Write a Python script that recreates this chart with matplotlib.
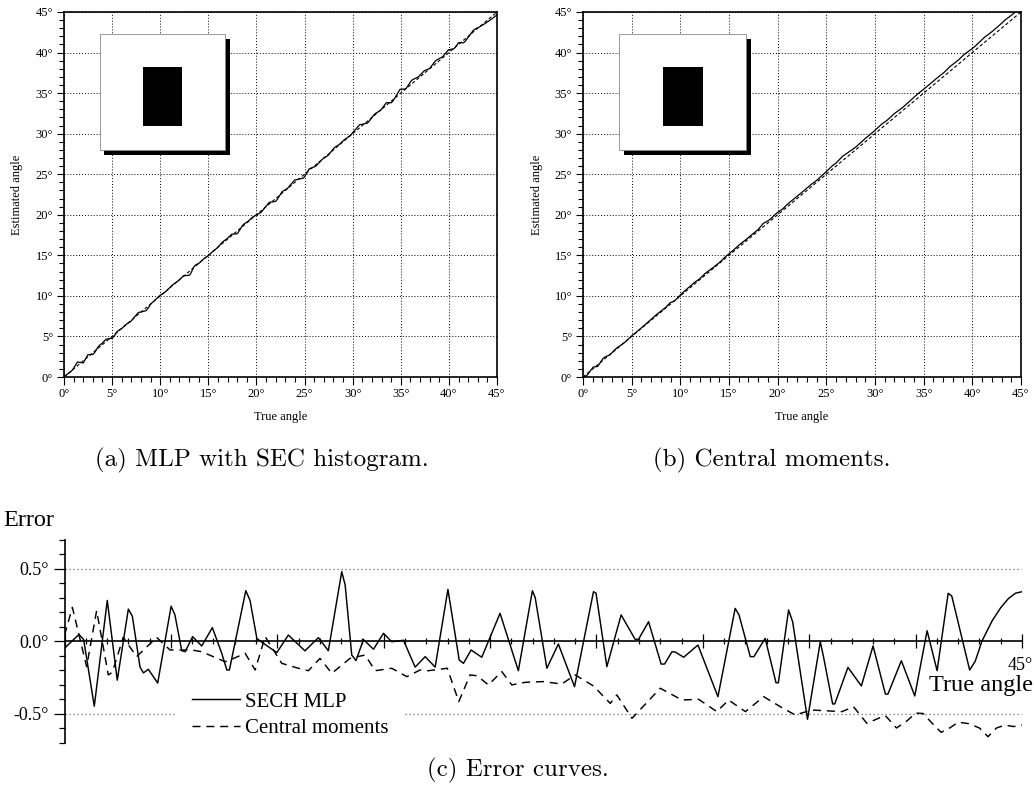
import numpy as np
import matplotlib
matplotlib.use("Agg")
import matplotlib.pyplot as plt
from matplotlib.ticker import MultipleLocator, FixedLocator
from matplotlib.patches import Rectangle

plt.rcParams['font.family'] = ['Liberation Serif', 'DejaVu Serif']

# ---------------------------------------------------------------- data
# Error of the SECH-histogram MLP estimate (degrees) against true angle
mlp_angle = [0.00, 0.68, 0.90, 1.40, 2.01, 2.48, 3.00, 3.19, 3.55, 3.71, 3.94, 4.38,
             5.01, 5.19, 5.51, 5.67, 6.02, 6.45, 6.95, 7.39, 7.63, 7.75, 8.52, 8.72,
             9.04, 9.24, 9.98, 10.52, 11.30, 11.93, 12.40, 13.03, 13.19, 13.50, 13.70,
             14.05, 14.52, 14.99, 15.38, 15.93, 16.48, 16.95, 17.42, 18.02, 18.55,
             18.75, 19.11, 19.61, 20.47, 21.33, 21.99, 22.12, 22.67, 23.21, 23.97,
             24.86, 24.98, 25.49, 26.16, 26.82, 26.98, 27.45, 28.04, 28.20, 28.55,
             28.70, 29.10, 29.77, 30.71, 31.52, 31.70, 32.23, 32.40, 32.93, 33.44,
             33.55, 34.03, 34.22, 34.92, 35.52, 35.67, 36.10, 36.20, 36.82, 37.45,
             38.00, 38.58, 38.70, 39.33, 39.96, 40.54, 41.01, 41.53, 41.70, 42.54,
             42.80, 43.12, 43.60, 44.00, 44.37, 44.70, 45.00]
mlp_error = [-0.050, 0.045, 0.010, -0.450, 0.280, -0.270, 0.220, 0.170, -0.180, -0.220,
             -0.195, -0.290, 0.240, 0.180, -0.067, -0.074, 0.030, -0.034, 0.092, -0.085,
             -0.200, -0.200, 0.347, 0.280, 0.018, -0.005, -0.080, 0.041, -0.068, 0.023,
             -0.067, 0.478, 0.386, -0.097, -0.135, 0.010, -0.057, 0.053, -0.005, 0.005,
             -0.180, -0.108, -0.180, 0.356, -0.131, -0.154, -0.062, -0.112, 0.191,
             -0.205, 0.347, 0.300, -0.188, -0.021, -0.315, 0.340, 0.330, -0.177, 0.180,
             0.011, 0.012, 0.133, -0.159, -0.159, -0.074, -0.076, -0.112, -0.028,
             -0.384, 0.225, 0.180, -0.108, -0.108, 0.018, -0.288, -0.288, 0.214, 0.133,
             -0.540, -0.005, -0.108, -0.434, -0.434, -0.182, -0.310, -0.034, -0.366,
             -0.366, -0.136, -0.379, 0.071, -0.205, 0.329, 0.310, -0.200, -0.140,
             0.000, 0.140, 0.230, 0.294, 0.330, 0.340]

# Error of the central-moments estimate (degrees) against true angle
cm_angle = [0.00, 0.37, 1.04, 1.51, 2.06, 2.25, 2.76, 3.39, 4.33, 4.96, 5.98, 6.45,
            7.55, 7.80, 8.49, 8.96, 9.43, 10.21, 10.99, 11.46, 12.01, 12.56, 13.42,
            13.70, 14.13, 14.60, 15.38, 16.09, 16.71, 17.10, 17.99, 18.53, 19.06,
            19.40, 19.92, 20.55, 21.02, 21.65, 22.51, 23.37, 24.00, 24.86, 25.65,
            25.96, 26.67, 28.00, 29.02, 29.80, 30.66, 31.21, 32.00, 32.86, 33.64,
            34.34, 35.12, 36.54, 37.08, 37.71, 38.30, 38.58, 39.10, 39.60, 40.00,
            40.35, 40.77, 41.20, 41.60, 42.00, 42.50, 43.00, 43.40, 43.80, 44.20,
            44.60, 45.00]
cm_error = [0.040, 0.232, -0.177, 0.209, -0.234, -0.215, 0.025, -0.108, 0.025, -0.062,
            -0.062, -0.074, -0.143, -0.130, -0.085, -0.200, 0.030, -0.154, -0.188,
            -0.205, -0.120, -0.223, -0.120, -0.110, -0.097, -0.205, -0.188, -0.246,
            -0.200, -0.205, -0.188, -0.418, -0.234, -0.240, -0.303, -0.211, -0.303,
            -0.285, -0.280, -0.297, -0.234, -0.310, -0.430, -0.372, -0.533, -0.326,
            -0.407, -0.402, -0.487, -0.407, -0.487, -0.384, -0.453, -0.510, -0.476,
            -0.487, -0.453, -0.568, -0.530, -0.515, -0.600, -0.550, -0.497, -0.500,
            -0.566, -0.630, -0.600, -0.560, -0.570, -0.600, -0.660, -0.600, -0.580,
            -0.590, -0.580]

angle_range = [0, 45]
angle_ticks = [0, 5, 10, 15, 20, 25, 30, 35, 40, 45]
angle_tick_labels = [f"{a}°" for a in angle_ticks]
error_ticks = [-0.5, 0.0, 0.5]
error_tick_labels = ["-0.5°", "0.0°", "0.5°"]
legend_labels = ["SECH MLP", "Central moments"]
captions = ["(a) MLP with SEC histogram.", "(b) Central moments.", "(c) Error curves."]

# ---------------------------------------------------------------- layout
W, H = 1034, 790
fig = plt.figure(figsize=(W / 100, H / 100), dpi=100)


def box(x0, y0, x1, y1):
    """Pixel box (top-left origin) -> figure fraction rect."""
    return [x0 / W, 1 - y1 / H, (x1 - x0) / W, (y1 - y0) / H]


def angle_panel(ax, true_angle, est_angle, ylabel_x):
    ax.plot(angle_range, angle_range, color='k', lw=0.8, ls=(0, (3, 2)), zorder=4)
    ax.plot(true_angle, est_angle, color='k', lw=0.9, zorder=5)
    ax.set_xlim(0, 45)
    ax.set_ylim(0, 45)
    for axis in (ax.xaxis, ax.yaxis):
        axis.set_major_locator(FixedLocator(angle_ticks))
        axis.set_minor_locator(MultipleLocator(1))
    ax.set_xticklabels(angle_tick_labels)
    ax.set_yticklabels(angle_tick_labels)
    ax.grid(True, which='major', color='k', ls=(0, (1, 2)), lw=0.7, zorder=1)
    for s in ax.spines.values():
        s.set_linewidth(1.2)
    ax.tick_params(which='both', direction='out', top=False, right=False,
                   width=0.8, labelsize=9)
    ax.tick_params(which='major', length=5.4, pad=2.5)
    ax.tick_params(which='minor', length=3.6)

    # test image: white square with drop shadow and a black bar in the middle
    sx, sy, sw, sh = 0.082, 0.622, 0.290, 0.318
    ax.add_patch(Rectangle((sx + 0.0115, sy - 0.0137), sw, sh, transform=ax.transAxes,
                           fc='k', ec='none', zorder=3))
    ax.add_patch(Rectangle((sx, sy), sw, sh, transform=ax.transAxes,
                           fc='white', ec='#888888', lw=0.6, zorder=3.1))
    ax.add_patch(Rectangle((0.182, 0.688), 0.091, 0.161, transform=ax.transAxes,
                           fc='k', ec='none', zorder=3.2))

    pos = ax.get_position()
    fig.text(ylabel_x / W, pos.y0 + pos.height / 2, "Estimated angle", rotation=90,
             ha='center', va='center', size=9)
    fig.text(pos.x0 + pos.width / 2, 1 - 417 / H, "True angle",
             ha='center', va='center', size=9)


true_mlp = np.array(mlp_angle)
true_cm = np.array(cm_angle)
est_mlp = true_mlp - np.array(mlp_error)
est_cm = true_cm - np.array(cm_error)

axA = fig.add_axes(box(64, 12, 497, 377))
angle_panel(axA, true_mlp, est_mlp, 17)
axB = fig.add_axes(box(583, 12, 1021, 377))
angle_panel(axB, true_cm, est_cm, 537)

# ---------------------------------------------------------------- error curves
axE = fig.add_axes(box(64.5, 539.5, 1022, 742.5))
h_mlp, = axE.plot(mlp_angle, mlp_error, color='k', lw=1.05, zorder=4)
h_cm, = axE.plot(cm_angle, cm_error, color='k', lw=1.05, ls=(0, (5.5, 4)), zorder=4)
for level in (0.5, -0.5):
    axE.axhline(level, color='#666666', ls=(0, (1, 2.2)), lw=0.9, zorder=1)
axE.set_xlim(0, 45)
axE.set_ylim(-0.7, 0.7)

axE.spines['top'].set_visible(False)
axE.spines['right'].set_visible(False)
axE.spines['bottom'].set_position(('data', 0))
axE.spines['bottom'].set_linewidth(1.2)
axE.spines['left'].set_linewidth(1.2)

axE.xaxis.set_major_locator(FixedLocator(angle_ticks))
axE.xaxis.set_minor_locator(MultipleLocator(1))
axE.tick_params(axis='x', which='both', direction='inout', labelbottom=False, width=0.9)
axE.tick_params(axis='x', which='major', length=9.4)
axE.tick_params(axis='x', which='minor', length=5)

axE.yaxis.set_major_locator(FixedLocator(error_ticks))
axE.yaxis.set_minor_locator(FixedLocator(np.arange(-7, 8) / 10))
axE.set_yticklabels(error_tick_labels)
axE.tick_params(axis='y', which='both', direction='out', width=0.9, labelsize=13)
axE.tick_params(axis='y', which='major', length=8, pad=3)
axE.tick_params(axis='y', which='minor', length=4.3)

axE.annotate("45°", xy=(45, 0), xytext=(-14, -24), textcoords='offset pixels',
             ha='left', va='center', size=13)
axE.annotate("True angle", xy=(45, 0), xytext=(11, -44), textcoords='offset pixels',
             ha='right', va='center', size=17.5)
fig.text(3 / W, 1 - 520 / H, "Error", ha='left', va='center', size=17.5)

x0 = (175 - 64.5) / 957.5
wl = (403 - 175) / 957.5
leg = axE.legend([h_mlp, h_cm], legend_labels, loc='upper left',
                 bbox_to_anchor=(x0, 0.33, wl, 0), mode='expand', borderaxespad=0,
                 borderpad=0.8, frameon=True, fancybox=False, framealpha=1,
                 edgecolor='none', facecolor='white', handlelength=2.3,
                 handletextpad=0.25, labelspacing=0.33, prop={'size': 15})

# ---------------------------------------------------------------- captions
cap_kw = dict(family='cmr10', size=18, va='center')
fig.text(95 / W, 1 - 460 / H, captions[0], ha='left', **cap_kw)
fig.text(653 / W, 1 - 460 / H, captions[1], ha='left', **cap_kw)
fig.text(518 / W, 1 - 770 / H, captions[2], ha='center', **cap_kw)

fig.savefig("out.png", dpi=100)
